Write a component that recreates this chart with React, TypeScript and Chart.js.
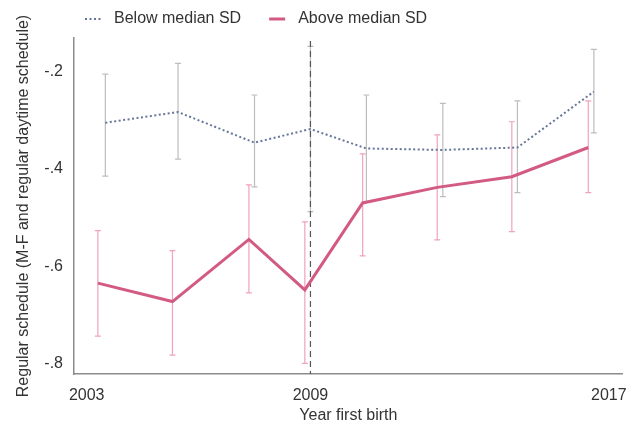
import React, { useEffect, useRef } from "react";
import { Chart, registerables } from "chart.js";

Chart.register(...registerables);

// ---- data ----
const seriesNames = ["Below median SD", "Above median SD"];

const belowX = [2003.5, 2005.45, 2007.5, 2009.0, 2010.5, 2012.55, 2014.55, 2016.6];
const belowY = [-0.305, -0.283, -0.346, -0.318, -0.358, -0.361, -0.356, -0.241];
const belowLo = [-0.415, -0.38, -0.437, -0.488, -0.468, -0.457, -0.449, -0.326];
const belowHi = [-0.205, -0.183, -0.248, -0.148, -0.248, -0.265, -0.26, -0.154];

const aboveX = [2003.3, 2005.3, 2007.35, 2008.85, 2010.4, 2012.4, 2014.4, 2016.45];
const aboveY = [-0.635, -0.673, -0.545, -0.649, -0.47, -0.438, -0.416, -0.356];
const aboveLo = [-0.744, -0.783, -0.655, -0.8, -0.579, -0.546, -0.529, -0.449];
const aboveHi = [-0.527, -0.568, -0.433, -0.509, -0.369, -0.33, -0.303, -0.26];

const xTicks = [2003, 2009, 2017];
const xTickLabels = ["2003", "2009", "2017"];
const yTicks = [-0.2, -0.4, -0.6, -0.8];
const yTickLabels = ["-.2", "-.4", "-.6", "-.8"];
const markerYear = 2009;

const xTitle = "Year first birth";
const yTitle = "Regular schedule (M-F and regular daytime schedule)";

const FONT = "'Liberation Sans', Arial, Helvetica, sans-serif";
const TEXT = "#333333";

const errorBarPlugin = {
  id: "errorBars",
  beforeDatasetsDraw(chart: any) {
    const { ctx, chartArea } = chart;
    const x = chart.scales.x;
    const y = chart.scales.y;
    ctx.save();
    chart.data.datasets.forEach((ds: any) => {
      ctx.strokeStyle = ds.errColor;
      ctx.lineWidth = 1.2;
      ds.data.forEach((pt: any, i: number) => {
        const xp = x.getPixelForValue(pt.x);
        const y1 = y.getPixelForValue(ds.errLo[i]);
        const y2 = y.getPixelForValue(ds.errHi[i]);
        ctx.beginPath();
        ctx.moveTo(xp, y1);
        ctx.lineTo(xp, y2);
        ctx.moveTo(xp - 3, y1);
        ctx.lineTo(xp + 3, y1);
        ctx.moveTo(xp - 3, y2);
        ctx.lineTo(xp + 3, y2);
        ctx.stroke();
      });
    });
    // reference line at 2009
    const px = x.getPixelForValue(markerYear);
    ctx.strokeStyle = "#555555";
    ctx.lineWidth = 1.2;
    ctx.setLineDash([6, 4]);
    ctx.beginPath();
    ctx.moveTo(px, chartArea.top + 3);
    ctx.lineTo(px, chartArea.bottom);
    ctx.stroke();
    ctx.setLineDash([]);
    ctx.restore();
  },
};

const legendPlugin = {
  id: "topLegend",
  afterDraw(chart: any) {
    const { ctx } = chart;
    ctx.save();
    ctx.font = `16px ${FONT}`;
    ctx.textBaseline = "middle";
    ctx.textAlign = "left";
    const cy = 19;
    let cx = 85;
    chart.data.datasets.forEach((ds: any) => {
      ctx.strokeStyle = ds.borderColor;
      ctx.lineWidth = ds.borderWidth;
      ctx.setLineDash(ds.borderDash || []);
      ctx.beginPath();
      ctx.moveTo(cx, cy);
      ctx.lineTo(cx + 16, cy);
      ctx.stroke();
      ctx.setLineDash([]);
      ctx.fillStyle = TEXT;
      ctx.fillText(ds.label, cx + 29, cy);
      cx += 29 + ctx.measureText(ds.label).width + 28;
    });
    ctx.restore();
  },
};

export default function App() {
  const ref = useRef<HTMLCanvasElement | null>(null);

  useEffect(() => {
    if (!ref.current) return;
    const chart = new Chart(ref.current, {
      type: "line",
      data: {
        datasets: [
          {
            label: seriesNames[0],
            data: belowX.map((v, i) => ({ x: v, y: belowY[i] })),
            borderColor: "#66759a",
            borderWidth: 2,
            borderDash: [2, 2.5],
            pointRadius: 0,
            fill: false,
            tension: 0,
            errLo: belowLo,
            errHi: belowHi,
            errColor: "#bdbdbd",
          } as any,
          {
            label: seriesNames[1],
            data: aboveX.map((v, i) => ({ x: v, y: aboveY[i] })),
            borderColor: "#d25a84",
            borderWidth: 3,
            pointRadius: 0,
            fill: false,
            tension: 0,
            errLo: aboveLo,
            errHi: aboveHi,
            errColor: "#f0a3b9",
          } as any,
        ],
      },
      options: {
        animation: false,
        responsive: false,
        maintainAspectRatio: false,
        layout: { padding: { top: 38, right: 16, left: 0, bottom: 0 } },
        plugins: { legend: { display: false }, tooltip: { enabled: false } },
        scales: {
          x: {
            type: "linear",
            min: 2002.66,
            max: 2017.375,
            afterBuildTicks: (s: any) => {
              s.ticks = xTicks.map((v) => ({ value: v }));
            },
            afterFit: (s: any) => {
              s.height = 56;
            },
            grid: { display: false, drawTicks: false },
            border: { display: true, color: "#8c8c8c", width: 1.5 },
            ticks: {
              padding: 12,
              color: TEXT,
              font: { size: 16, family: FONT },
              maxRotation: 0,
              autoSkip: false,
              callback: (v: any) => xTickLabels[xTicks.indexOf(v)] ?? String(v),
            },
            title: {
              display: true,
              text: xTitle,
              color: TEXT,
              font: { size: 16, family: FONT },
              padding: { top: 0, bottom: 5 },
            },
          },
          y: {
            type: "linear",
            min: -0.822,
            max: -0.1307,
            afterBuildTicks: (s: any) => {
              s.ticks = yTicks.map((v) => ({ value: v }));
            },
            afterFit: (s: any) => {
              s.width = 74;
            },
            grid: { display: false, drawTicks: false },
            border: { display: true, color: "#8c8c8c", width: 1.5 },
            ticks: {
              padding: 11,
              color: TEXT,
              font: { size: 16, family: FONT },
              autoSkip: false,
              callback: (v: any) => yTickLabels[yTicks.indexOf(v)] ?? String(v),
            },
            title: {
              display: true,
              text: yTitle,
              color: TEXT,
              font: { size: 16, family: FONT },
              padding: { top: 14, bottom: 0 },
            },
          },
        },
      },
      plugins: [errorBarPlugin, legendPlugin],
    });
    return () => chart.destroy();
  }, []);

  return (
    <>
      <style>{"html,body{margin:0;padding:0;overflow:hidden;background:#fff}"}</style>
      <canvas ref={ref} width={639} height={430} style={{ display: "block" }} />
    </>
  );
}
